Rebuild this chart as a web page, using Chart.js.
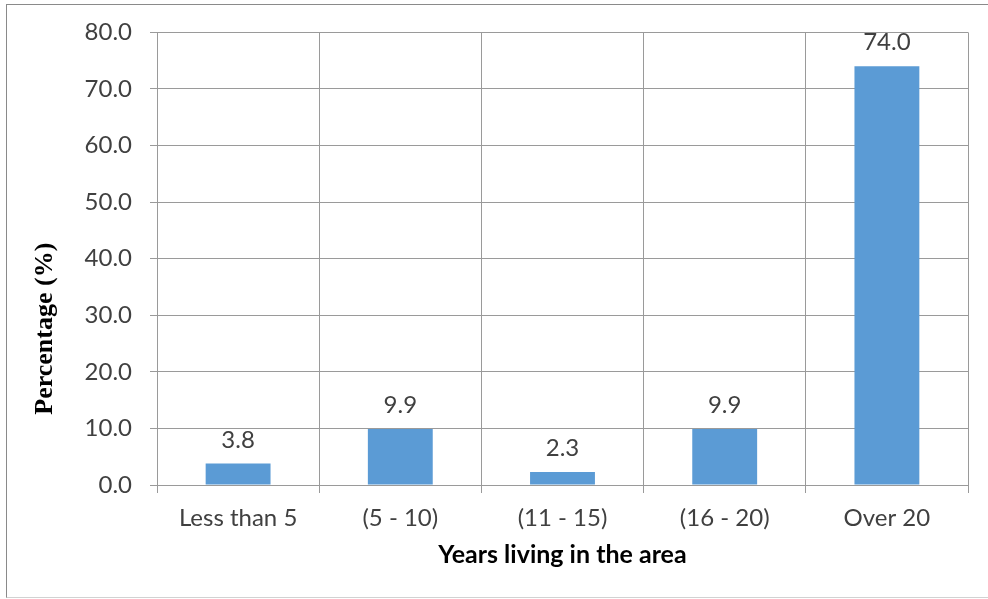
<!DOCTYPE html>
<html>
<head>
<meta charset="utf-8">
<script src="https://cdn.jsdelivr.net/npm/chart.js@4"></script>
<style>
    html, body { margin: 0; padding: 0; background: #fff; overflow: hidden; }
    #wrap { position: relative; width: 988px; height: 599px; }
    #frame {
        position: absolute; left: 6px; top: 4px; width: 1000px; height: 592px;
        border-top: 1px solid #8a8a8a; border-left: 1px solid #8a8a8a;
        border-bottom: 1px solid #d2d2d2; pointer-events: none;
    }
    canvas { position: absolute; left: 0; top: 0; }
</style>
</head>
<body>
<div id="wrap">
    <canvas id="grafico" width="988" height="599"></canvas>
    <div id="frame"></div>
</div>
<script>
const categorias = ["Less than 5", "(5 - 10)", "(11 - 15)", "(16 - 20)", "Over 20"];
const percentuais = [3.8, 9.9, 2.3, 9.9, 74.0];
const eixoY = { min: 0, max: 80, passo: 10 };

const corTexto = '#404040';
const corGrade = '#9a9a9a';

// values written above each bar
const rotulosBarras = {
    id: 'rotulosBarras',
    afterDatasetsDraw(chart) {
        const ctx = chart.ctx;
        const meta = chart.getDatasetMeta(0);
        ctx.save();
        ctx.font = '24px Lato';
        ctx.fillStyle = corTexto;
        ctx.textAlign = 'center';
        ctx.textBaseline = 'alphabetic';
        meta.data.forEach(function (bar, i) {
            ctx.fillText(percentuais[i].toFixed(1), bar.x, bar.y - 16);
        });
        ctx.restore();
    }
};

// vertical axis title, sits a bit below the middle of the plot
const tituloY = {
    id: 'tituloY',
    afterDraw(chart) {
        const ctx = chart.ctx;
        const area = chart.chartArea;
        ctx.save();
        ctx.translate(52, (area.top + area.bottom) / 2 + 70);
        ctx.rotate(-Math.PI / 2);
        ctx.font = 'bold 26px "Liberation Serif"';
        ctx.fillStyle = '#000';
        ctx.textAlign = 'center';
        ctx.textBaseline = 'alphabetic';
        ctx.fillText('Percentage (%)', 0, 0);
        ctx.restore();
    }
};

new Chart(document.getElementById('grafico').getContext('2d'), {
    type: 'bar',
    data: {
        labels: categorias,
        datasets: [{
            data: percentuais,
            backgroundColor: '#5B9BD5',
            borderWidth: 0,
            barPercentage: 0.4,
            categoryPercentage: 1.0
        }]
    },
    options: {
        responsive: false,
        animation: false,
        layout: { padding: { left: 0, right: 20, top: 32, bottom: 0 } },
        plugins: {
            legend: { display: false },
            tooltip: { enabled: false }
        },
        scales: {
            x: {
                afterFit: function (scale) { scale.height = 114; },
                grid: { color: corGrade, lineWidth: 1, tickLength: 8, offset: true },
                border: { color: corGrade },
                ticks: {
                    color: corTexto,
                    padding: 11,
                    maxRotation: 0,
                    font: { family: 'Lato', size: 24 }
                },
                title: {
                    display: true,
                    text: 'Years living in the area',
                    color: '#000',
                    font: { family: 'Lato', size: 25, weight: 'bold' },
                    padding: { top: 0, bottom: 29 }
                }
            },
            y: {
                min: eixoY.min,
                max: eixoY.max,
                afterFit: function (scale) { scale.width = 157; },
                grid: { color: corGrade, lineWidth: 1, tickLength: 7 },
                border: { color: corGrade },
                ticks: {
                    stepSize: eixoY.passo,
                    color: corTexto,
                    padding: 18,
                    font: { family: 'Lato', size: 24 },
                    callback: function (v) { return Number(v).toFixed(1); }
                }
            }
        }
    },
    plugins: [rotulosBarras, tituloY]
});
</script>
</body>
</html>
